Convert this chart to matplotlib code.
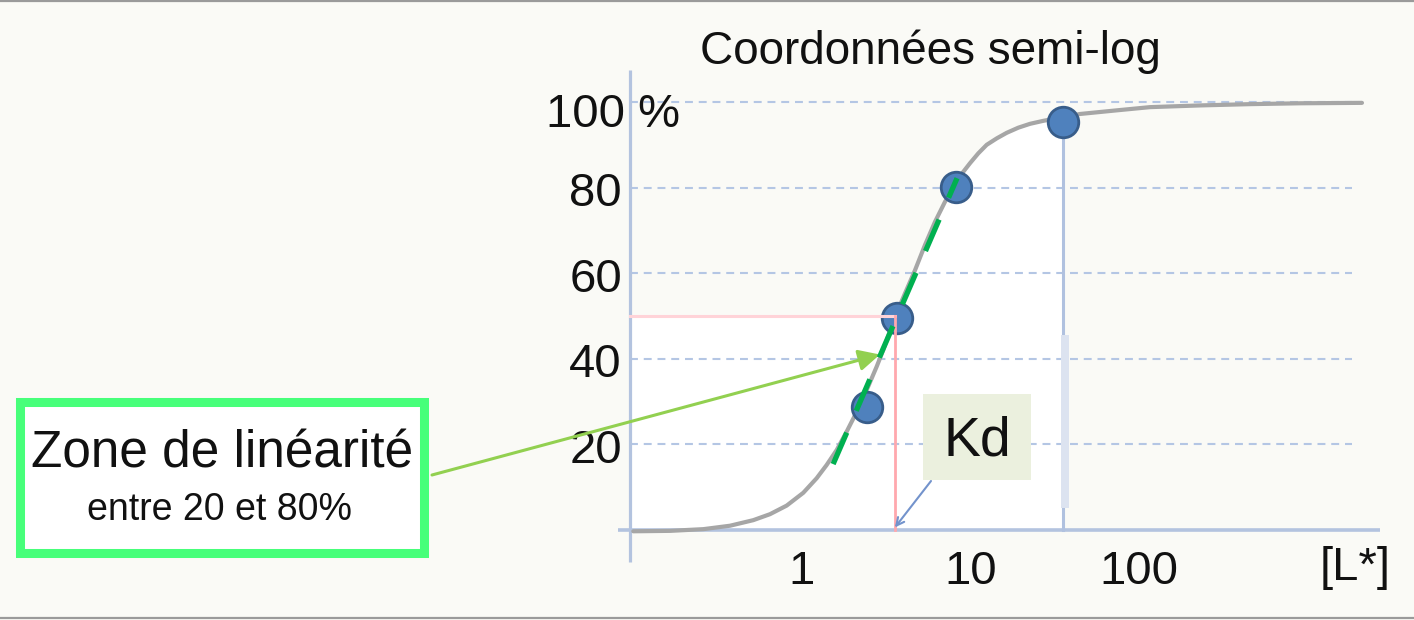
import matplotlib
matplotlib.use("Agg")
import matplotlib.pyplot as plt
from matplotlib.patches import Rectangle, Polygon
from matplotlib.lines import Line2D
from matplotlib.transforms import offset_copy

plt.rcParams['font.family'] = ['Liberation Sans', 'DejaVu Sans']

# ---------------- data ----------------
curve_x = [0.0997, 0.165, 0.260, 0.374, 0.514, 0.646, 0.811, 1.018, 1.222, 1.401,
           1.607, 1.842, 2.112, 2.421, 2.776, 3.038, 3.564, 4.087, 4.685, 5.370,
           6.156, 7.059, 8.091, 9.066, 9.931, 11.12, 12.48, 14.31, 16.40, 19.22,
           22.55, 27.04, 44.66, 73.76, 116.2, 230.1, 456, 902.6, 2105]
curve_y = [-0.3, -0.2, 0.2, 1.0, 2.3, 3.7, 5.7, 8.7, 12.1, 15.2,
           18.7, 23.0, 27.6, 32.7, 38.2, 42.1, 49.8, 55.3, 60.7, 66.6,
           72.0, 76.7, 80.6, 83.7, 85.7, 88.0, 90.0, 91.5, 92.8, 94.0,
           94.9, 95.6, 97.2, 98.05, 98.8, 99.2, 99.5, 99.7, 99.8]
pts_x = [2.43, 3.66, 8.2, 35.4]
pts_y = [28.7, 49.5, 80.1, 95.3]
tangent_x = [1.53, 8.32]
tangent_y = [15.4, 82.2]
kd = 3.56
half_level = 50
x_ticks = [1, 10, 100]
x_tick_labels = ['1', '10', '100']
x_axis_label = '[L*]'
y_ticks = [20, 40, 60, 80]
y_tick_labels = ['20', '40', '60', '80']
y_top = 100
y_top_label = '100 %'
title = 'Coordonnées semi-log'
kd_label = 'Kd'
zone_title = 'Zone de linéarité'
zone_sub = 'entre 20 et 80%'
arrow_tip = (2.9, 41)

# ---------------- layout ----------------
W, H = 1414, 620
BG = '#FAFAF6'
X1_PX, DEC_PX = 802.0, 168.5   # pixel of x=1, pixels per decade
Y0_PX, PPU = 530.0, 4.28       # pixel of y=0, pixels per unit


def xd(px):
    return 10 ** ((px - X1_PX) / DEC_PX)


def yd(py):
    return (Y0_PX - py) / PPU


def fx(px):
    return px / W


def fy(py):
    return 1 - py / H


fig = plt.figure(figsize=(W / 100, H / 100), dpi=100, facecolor=BG)
ax = fig.add_axes([fx(618), fy(562), (1380 - 618) / W, (562 - 70) / H])
ax.set_xscale('log')
ax.set_xlim(xd(618), xd(1380))
ax.set_ylim(yd(562), yd(70))
ax.axis('off')

x_axis_left = xd(630)
grid_right = xd(1352)

# white area under the curve / below half level
poly = [(x_axis_left, 0), (x_axis_left, half_level), (kd, half_level)]
poly += [(x, y) for x, y in zip(curve_x, curve_y) if kd < x < pts_x[-1]]
poly += [(pts_x[-1], pts_y[-1] + 0.8), (pts_x[-1], 0)]
ax.add_patch(Polygon(poly, closed=True, facecolor='white', edgecolor='none', zorder=1))

# grid
grid_c = '#B4C6E4'
for v in y_ticks + [y_top]:
    ax.plot([x_axis_left, grid_right], [v, v], color=grid_c, lw=1.5,
            dashes=(3.8, 2.8), zorder=2, solid_capstyle='butt')

# axes lines
axis_c = '#B3C3DF'
ax.plot([x_axis_left, x_axis_left], [yd(562), yd(70)], color=axis_c, lw=2.3,
        zorder=2, clip_on=False, solid_capstyle='butt')
ax.plot([xd(618), xd(1380)], [0, 0], color=axis_c, lw=2.6, zorder=2,
        clip_on=False, solid_capstyle='butt')

# curve
ax.plot(curve_x, curve_y, color='#A6A6A6', lw=3.0, zorder=3,
        solid_capstyle='round', solid_joinstyle='round')

# vertical blue line under last point
ax.plot([pts_x[-1], pts_x[-1]], [pts_y[-1], 0], color='#B0C1DF', lw=2.2, zorder=3)
ax.add_patch(Rectangle((xd(1061), yd(508)), xd(1069) - xd(1061), yd(335) - yd(508),
                       facecolor='#DCE3F0', edgecolor='none', zorder=3.5))

# points
ax.plot(pts_x, pts_y, 'o', ms=22, mfc='#4F81BD', mec='#385D8A', mew=2, zorder=4)

# pink Kd lines
ax.plot([x_axis_left, kd], [half_level, half_level], color='#FFD3D8', lw=2.2, zorder=5)
ax.plot([kd, kd], [half_level, 0], color='#FFA8AE', lw=2.0, zorder=5)

# green arrow from box
ax.annotate('', xy=arrow_tip, xycoords='data', xytext=(fx(432), fy(475)),
            textcoords='figure fraction',
            arrowprops=dict(arrowstyle='-|>', color='#92D050', lw=2.2,
                            mutation_scale=32, shrinkA=0, shrinkB=0),
            zorder=5.5, annotation_clip=False)

# green dashed tangent
ax.plot(tangent_x, tangent_y, color='#00B050', lw=3.8, dashes=(6.5, 4.5),
        zorder=6, dash_capstyle='butt')

# tick labels
TXT = '#111111'
FS = 34
tr_down = offset_copy(ax.transData, fig=fig, x=0, y=-18.5, units='dots')
for v, lab in zip(y_ticks, y_tick_labels):
    ax.text(xd(622), v, lab, transform=tr_down, ha='right', va='baseline',
            fontsize=FS, color=TXT, clip_on=False)
ax.text(xd(546), yd(127), y_top_label, ha='left', va='baseline',
        fontsize=FS, color=TXT, clip_on=False, zorder=7)
for v, lab in zip(x_ticks, x_tick_labels):
    ax.text(v, yd(584), lab, ha='center', va='baseline', fontsize=FS,
            color=TXT, clip_on=False)
ax.text(xd(1355), yd(580), x_axis_label, ha='center', va='baseline', fontsize=FS,
        color=TXT, clip_on=False)

# title
fig.text(fx(930.5), fy(63.5), title, ha='center', va='baseline', fontsize=33,
         color=TXT)

# Kd box
fig.add_artist(Rectangle((fx(923), fy(480)), (1031 - 923) / W, (480 - 394) / H,
                         transform=fig.transFigure, facecolor='#EBF0DE',
                         edgecolor='none', zorder=3))
fig.text(fx(977), fy(455), kd_label, ha='center', va='baseline', fontsize=40,
         color=TXT, zorder=4)
ax.annotate('', xy=(kd, 0.6), xycoords='data', xytext=(fx(931), fy(481)),
            textcoords='figure fraction',
            arrowprops=dict(arrowstyle='->', color='#7393CC', lw=1.5,
                            mutation_scale=14, shrinkA=0, shrinkB=0),
            zorder=6, annotation_clip=False)

# Zone box
fig.add_artist(Rectangle((fx(19.5), fy(552.5)), (423.5 - 19.5) / W, (552.5 - 401.5) / H,
                         transform=fig.transFigure, facecolor='white',
                         edgecolor='#47FF7A', lw=6.5, zorder=3))
fig.text(fx(222), fy(468), zone_title, ha='center', va='baseline', fontsize=37,
         color=TXT, zorder=4)
fig.text(fx(220), fy(520), zone_sub, ha='center', va='baseline', fontsize=27,
         color=TXT, zorder=4)

# top / bottom frame lines
for py in (1, 618):
    fig.add_artist(Line2D([0, 1], [fy(py), fy(py)], transform=fig.transFigure,
                          color='#9A9A9A', lw=1.6))

fig.savefig('out.png', dpi=100, facecolor=BG)
